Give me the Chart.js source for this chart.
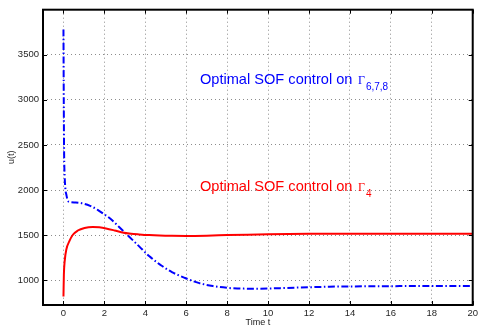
<!DOCTYPE html>
<html>
<head>
<meta charset="utf-8">
<script src="https://cdn.jsdelivr.net/npm/chart.js@4/dist/chart.umd.min.js"></script>
<style>
  html, body { margin: 0; padding: 0; background: #fff; }
  #wrap { width: 481px; height: 333px; }
</style>
</head>
<body>
<div id="wrap"><canvas id="c" width="481" height="333"></canvas></div>
<script>
// Control input u(t) over time for the two SOF designs
const timeGamma4 = [0, 0.02, 0.06, 0.14, 0.3, 0.46, 0.7, 1.03, 1.43, 1.75, 2.08, 2.5, 2.88, 3.3, 3.7, 4.2, 4.7, 5.3, 6.0, 7.0, 8.0, 9.0, 10.0, 12.0, 14.0, 16.0, 18.0, 20.0];
const uGamma4 = [820, 1060, 1212, 1340, 1438, 1504, 1551, 1580, 1591, 1586, 1574, 1552, 1530, 1516, 1508, 1500, 1495, 1492, 1491, 1494, 1500, 1505, 1509, 1514, 1516, 1516, 1516, 1515];

const timeGamma678 = [0, 0.015, 0.03, 0.06, 0.1, 0.14, 0.2, 0.3, 0.6, 1.0, 1.3, 1.67, 2.0, 2.25, 2.72, 3.2, 3.7, 4.2, 4.8, 5.3, 5.94, 6.6, 7.3, 8.0, 8.5, 9.5, 10.6, 12.0, 13.0, 14.0, 16.0, 18.0, 20.0];
const uGamma678 = [3780, 3000, 2450, 2150, 2000, 1950, 1890, 1868, 1862, 1848, 1825, 1780, 1730, 1690, 1590, 1485, 1375, 1265, 1160, 1090, 1025, 970, 935, 915, 908, 906, 912, 922, 928, 931, 934, 935, 935];

const xTickValues = [0, 2, 4, 6, 8, 10, 12, 14, 16, 18, 20];
const yTickValues = [1000, 1500, 2000, 2500, 3000, 3500];

const seriesNames = ['Optimal SOF control on ', 'Optimal SOF control on '];
const seriesSubscripts = ['4', '6,7,8'];

const toPoints = (xs, ys) => xs.map((x, i) => ({ x: x, y: ys[i] }));

// Text labels placed in data coordinates (anchor = left end of the baseline)
const labelAnchors = [
  { series: 0, t: 6.67, u: 1990, color: '#ff0000' },
  { series: 1, t: 6.67, u: 3178, color: '#0000ff' }
];

const framePlugin = {
  id: 'frame',
  afterDraw(chart) {
    const { ctx, chartArea: a, scales } = chart;
    ctx.save();
    // inward tick marks on all four sides
    ctx.strokeStyle = '#000';
    ctx.lineWidth = 1;
    const tl = 4;
    xTickValues.forEach(v => {
      const x = Math.round(scales.x.getPixelForValue(v)) + 0.5;
      ctx.beginPath();
      ctx.moveTo(x, a.bottom); ctx.lineTo(x, a.bottom - tl);
      ctx.moveTo(x, a.top); ctx.lineTo(x, a.top + tl);
      ctx.stroke();
    });
    yTickValues.forEach(v => {
      const y = Math.round(scales.y.getPixelForValue(v)) + 0.5;
      ctx.beginPath();
      ctx.moveTo(a.left, y); ctx.lineTo(a.left + tl, y);
      ctx.moveTo(a.right, y); ctx.lineTo(a.right - tl, y);
      ctx.stroke();
    });
    // axes box
    ctx.lineWidth = 2;
    ctx.strokeRect(a.left, a.top, a.right - a.left, a.bottom - a.top);

    // axis titles
    ctx.fillStyle = '#1a1a1a';
    ctx.font = '9px "Liberation Sans", Arial, sans-serif';
    ctx.textAlign = 'center';
    ctx.textBaseline = 'middle';
    ctx.fillText('Time t', (a.left + a.right) / 2, 323);
    ctx.save();
    ctx.translate(12, (a.top + a.bottom) / 2);
    ctx.rotate(-Math.PI / 2);
    ctx.fillText('u(t)', 0, 0);
    ctx.restore();

    // series labels with Γ and subscript
    labelAnchors.forEach(l => {
      let x = scales.x.getPixelForValue(l.t);
      const y = scales.y.getPixelForValue(l.u);
      ctx.fillStyle = l.color;
      ctx.textAlign = 'left';
      ctx.textBaseline = 'alphabetic';
      ctx.font = '14.6px "Liberation Sans", Arial, sans-serif';
      const main = seriesNames[l.series];
      ctx.fillText(main, x, y);
      x += ctx.measureText(main).width + 1.5;
      ctx.font = '12px "Liberation Serif", "Times New Roman", serif';
      ctx.fillText('\u0393', x, y);
      x += ctx.measureText('\u0393').width + 1;
      ctx.font = '10px "Liberation Sans", Arial, sans-serif';
      ctx.fillText(seriesSubscripts[l.series], x, y + 6.5);
    });
    ctx.restore();
  }
};

new Chart(document.getElementById('c'), {
  type: 'line',
  data: {
    datasets: [
      {
        data: toPoints(timeGamma4, uGamma4),
        borderColor: '#ff0000',
        borderWidth: 2,
        pointRadius: 0,
        cubicInterpolationMode: 'monotone',
        fill: false
      },
      {
        data: toPoints(timeGamma678, uGamma678),
        borderColor: '#0000ff',
        borderWidth: 2,
        borderDash: [7, 2.5, 1.5, 2.5],
        pointRadius: 0,
        cubicInterpolationMode: 'monotone',
        fill: false
      }
    ]
  },
  options: {
    responsive: false,
    animation: false,
    events: [],
    layout: { padding: { top: 5, right: 3, left: 0, bottom: 0 } },
    plugins: { legend: { display: false }, tooltip: { enabled: false } },
    scales: {
      x: {
        type: 'linear',
        min: -1,
        max: 20,
        afterBuildTicks(scale) { scale.ticks = xTickValues.map(v => ({ value: v })); },
        afterFit(scale) { scale.height = 28; },
        grid: { color: '#8c8c8c', lineWidth: 1, drawTicks: false },
        border: { display: false, dash: [1, 3] },
        ticks: {
          padding: 3,
          color: '#262626',
          font: { family: '"Liberation Sans", Arial, sans-serif', size: 9.5 },
          maxRotation: 0,
          callback: v => String(v)
        }
      },
      y: {
        type: 'linear',
        min: 725,
        max: 4000,
        afterBuildTicks(scale) { scale.ticks = yTickValues.map(v => ({ value: v })); },
        afterFit(scale) { scale.width = 43; },
        grid: { color: '#8c8c8c', lineWidth: 1, drawTicks: false },
        border: { display: false, dash: [1, 3] },
        ticks: {
          padding: 4,
          color: '#262626',
          font: { family: '"Liberation Sans", Arial, sans-serif', size: 9.5 },
          callback: v => String(v)
        }
      }
    }
  },
  plugins: [framePlugin]
});
</script>
</body>
</html>
